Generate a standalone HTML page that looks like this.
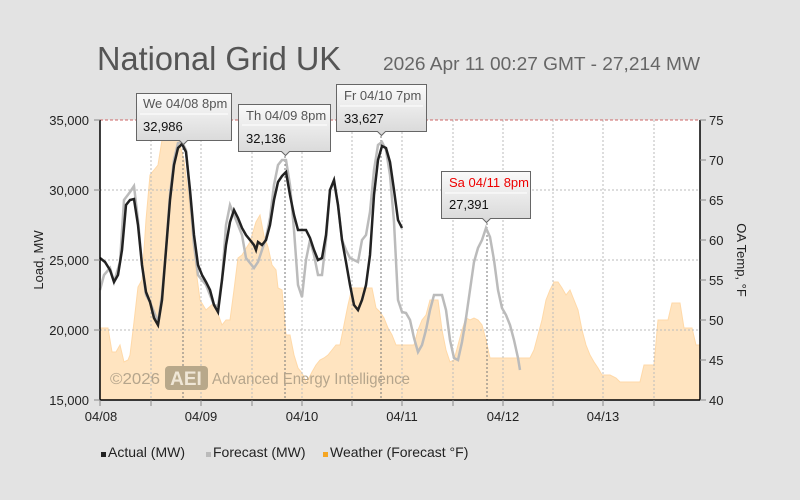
<!DOCTYPE html>
<html><head><meta charset="utf-8"><style>
body{margin:0;background:#e3e3e3;}
svg{display:block;font-family:"Liberation Sans","DejaVu Sans",sans-serif;}
</style></head><body>
<svg width="800" height="500" viewBox="0 0 800 500">
<rect width="800" height="500" fill="#e3e3e3"/>
<text x="97" y="70" font-size="33" fill="#555" textLength="244" lengthAdjust="spacingAndGlyphs">National Grid UK</text>
<text x="383" y="70" font-size="18" fill="#666" textLength="317" lengthAdjust="spacingAndGlyphs">2026 Apr 11 00:27 GMT - 27,214 MW</text>
<rect x="100" y="120" width="600" height="280" fill="#fff"/>
<polygon fill="#ffe4c0" stroke="#ffd9a8" stroke-width="1" points="100,400 100,328 108,328 112,352 116,352 120,345 124,362 128,360 130,355 134,322 138,287 142,280 146,220 150,175 154,170 158,165 162,140 166,120 176,120 180,145 184,160 190,210 196,270 200,300 206,310 214,303 222,325 226,320 230,320 234,290 238,258 242,255 250,242 256,222 260,215 264,236 268,247 272,265 276,270 278,288 282,290 286,335 290,335 294,355 298,368 302,373 306,382 308,380 312,372 316,365 320,360 324,358 328,355 332,350 336,345 340,345 344,325 348,305 352,288 372,288 376,308 380,312 384,318 388,328 392,335 396,345 414,345 418,330 422,320 426,315 430,300 438,300 442,330 446,350 450,362 454,360 458,345 462,330 466,318 470,320 474,318 478,320 482,325 486,340 490,358 530,358 534,350 538,335 542,320 546,300 550,290 554,282 558,282 562,288 566,295 570,290 574,300 578,310 582,330 586,345 590,355 594,362 598,368 602,375 610,375 616,378 620,382 640,382 644,365 654,365 658,320 668,320 672,303 680,303 684,328 692,328 696,345 700,345 700,400"/>
<g stroke="#bbb" stroke-dasharray="2,2" stroke-width="1">
<line x1="100" y1="190" x2="700" y2="190"/><line x1="100" y1="260" x2="700" y2="260"/><line x1="100" y1="330" x2="700" y2="330"/>
<line x1="151" y1="120" x2="151" y2="400"/><line x1="201" y1="120" x2="201" y2="400"/><line x1="252" y1="120" x2="252" y2="400"/><line x1="302" y1="120" x2="302" y2="400"/><line x1="352" y1="120" x2="352" y2="400"/><line x1="402" y1="120" x2="402" y2="400"/><line x1="453" y1="120" x2="453" y2="400"/><line x1="503" y1="120" x2="503" y2="400"/><line x1="553" y1="120" x2="553" y2="400"/><line x1="603" y1="120" x2="603" y2="400"/><line x1="654" y1="120" x2="654" y2="400"/>
</g>
<line x1="100" y1="120" x2="700" y2="120" stroke="#c66" stroke-dasharray="3,2"/>
<g stroke="#777" stroke-dasharray="2,2"><line x1="183" y1="140" x2="183" y2="400"/><line x1="285" y1="152" x2="285" y2="400"/><line x1="381" y1="132" x2="381" y2="400"/><line x1="487" y1="219" x2="487" y2="400"/></g>
<text x="110" y="384" font-size="16" fill="#b5a58c" textLength="50" lengthAdjust="spacingAndGlyphs">©2026</text>
<rect x="165" y="366" width="43" height="24" rx="4" fill="#b8a88a"/>
<text x="186" y="385" font-size="19" fill="#efe6d6" text-anchor="middle" font-weight="bold">AEI</text>
<text x="212" y="384" font-size="16" fill="#b5a58c" textLength="198" lengthAdjust="spacingAndGlyphs">Advanced Energy Intelligence</text>
<polyline fill="none" stroke="#bbb" stroke-width="2.5" points="100,290 104,275 110,268 114,282 120,262 124,200 130,192 134,186 138,220 142,265 146,295 150,302 154,312 158,322 162,295 166,250 170,195 174,160 178,143 182,142 186,150 190,195 194,245 198,275 202,280 206,285 210,295 214,305 218,306 222,280 226,225 230,205 234,215 238,225 242,235 246,258 250,263 254,268 258,262 262,250 266,238 270,218 274,185 278,165 282,160 286,160 290,185 294,230 298,285 302,297 306,260 310,240 314,255 318,275 322,275 326,240 330,190 334,182 338,205 342,240 346,250 350,258 354,260 358,262 362,240 366,235 370,212 374,170 378,145 382,142 386,150 390,175 394,222 398,300 402,312 406,313 410,320 414,338 418,352 422,345 426,330 430,310 434,295 438,295 442,295 446,310 450,340 454,358 458,360 462,342 466,318 470,290 474,262 478,248 482,240 486,228 490,237 494,260 498,290 502,308 506,315 510,325 514,340 518,358 520,370"/>
<polyline fill="none" stroke="#222" stroke-width="2.5" points="100,258 105,262 110,270 114,282 118,275 122,250 126,205 130,200 134,199 138,225 142,265 146,292 150,302 154,318 158,325 162,300 166,250 170,200 174,165 178,148 182,144 186,152 190,190 194,235 198,265 202,275 206,282 210,290 214,305 218,312 222,280 226,245 230,222 234,210 238,218 242,228 246,235 250,240 254,245 256,250 258,242 262,245 266,240 270,225 274,200 278,182 282,176 286,172 290,195 294,215 298,230 302,230 306,230 310,238 314,250 318,260 322,258 326,235 330,190 334,180 338,205 342,240 346,262 350,285 354,305 358,310 362,300 366,285 370,255 374,195 378,160 382,146 386,148 390,162 394,190 398,220 402,228"/>
<line x1="100" y1="120" x2="100" y2="400" stroke="#000" stroke-width="1.5"/>
<line x1="700" y1="120" x2="700" y2="400" stroke="#000" stroke-width="1.5"/>
<line x1="100" y1="400" x2="700" y2="400" stroke="#000" stroke-width="1.5"/>
<g stroke="#888"><line x1="100" y1="400" x2="100" y2="406"/><line x1="151" y1="400" x2="151" y2="406"/><line x1="201" y1="400" x2="201" y2="406"/><line x1="252" y1="400" x2="252" y2="406"/><line x1="302" y1="400" x2="302" y2="406"/><line x1="352" y1="400" x2="352" y2="406"/><line x1="402" y1="400" x2="402" y2="406"/><line x1="453" y1="400" x2="453" y2="406"/><line x1="503" y1="400" x2="503" y2="406"/><line x1="553" y1="400" x2="553" y2="406"/><line x1="603" y1="400" x2="603" y2="406"/><line x1="654" y1="400" x2="654" y2="406"/>
<line x1="700" y1="120" x2="706" y2="120"/><line x1="700" y1="160" x2="706" y2="160"/><line x1="700" y1="200" x2="706" y2="200"/><line x1="700" y1="240" x2="706" y2="240"/><line x1="700" y1="280" x2="706" y2="280"/><line x1="700" y1="320" x2="706" y2="320"/><line x1="700" y1="360" x2="706" y2="360"/><line x1="700" y1="400" x2="706" y2="400"/>
<line x1="94" y1="120" x2="100" y2="120"/><line x1="94" y1="190" x2="100" y2="190"/><line x1="94" y1="260" x2="100" y2="260"/><line x1="94" y1="330" x2="100" y2="330"/><line x1="94" y1="400" x2="100" y2="400"/></g>
<g font-size="13" fill="#222" text-anchor="end">
<text x="89" y="125">35,000</text><text x="89" y="195">30,000</text><text x="89" y="265">25,000</text><text x="89" y="335">20,000</text><text x="89" y="405">15,000</text></g>
<g font-size="13" fill="#222"><text x="709" y="125">75</text><text x="709" y="165">70</text><text x="709" y="205">65</text><text x="709" y="245">60</text><text x="709" y="285">55</text><text x="709" y="325">50</text><text x="709" y="365">45</text><text x="709" y="405">40</text></g>
<g font-size="13" fill="#222" text-anchor="middle"><text x="101" y="421">04/08</text><text x="201" y="421">04/09</text><text x="302" y="421">04/10</text><text x="402" y="421">04/11</text><text x="503" y="421">04/12</text><text x="603" y="421">04/13</text></g>
<text transform="translate(43,260) rotate(-90)" font-size="13" fill="#222" text-anchor="middle">Load, MW</text>
<text transform="translate(737,260) rotate(90)" font-size="13" fill="#222" text-anchor="middle">OA Temp, °F</text>
<defs><linearGradient id="g" x1="0" y1="0" x2="0" y2="1"><stop offset="0" stop-color="#fafafa"/><stop offset="1" stop-color="#d8d8d8"/></linearGradient></defs>
<g font-size="13">
<path d="M136.5,93.5h95v47h-44l-4,4l-4,-4h-43z" fill="url(#g)" stroke="#666"/><line x1="140" y1="114" x2="228" y2="114" stroke="#fff"/>
<text x="143" y="108" fill="#555">We 04/08 8pm</text><text x="143" y="131" fill="#111">32,986</text>
<path d="M238.5,104.5h92v47h-41l-4,4l-4,-4h-43z" fill="url(#g)" stroke="#666"/><line x1="242" y1="125" x2="327" y2="125" stroke="#fff"/>
<text x="246" y="120" fill="#555">Th 04/09 8pm</text><text x="246" y="143" fill="#111">32,136</text>
<path d="M336.5,84.5h90v47h-41l-4,4l-4,-4h-41z" fill="url(#g)" stroke="#666"/><line x1="340" y1="106" x2="423" y2="106" stroke="#fff"/>
<text x="344" y="100" fill="#555">Fr 04/10 7pm</text><text x="344" y="123" fill="#111">33,627</text>
<path d="M441.5,171.5h89v47h-40l-4,4l-4,-4h-41z" fill="url(#g)" stroke="#666"/><line x1="445" y1="193" x2="527" y2="193" stroke="#fff"/>
<text x="449" y="187" fill="#e00">Sa 04/11 8pm</text><text x="449" y="209" fill="#111">27,391</text>
</g>
<g font-size="14" fill="#222">
<rect x="101" y="452" width="5" height="5" fill="#222"/><text x="108" y="457">Actual (MW)</text>
<rect x="206" y="452" width="5" height="5" fill="#bbb"/><text x="213" y="457">Forecast (MW)</text>
<rect x="323" y="452" width="5" height="5" fill="#f5a623"/><text x="330" y="457">Weather (Forecast °F)</text>
</g>
</svg>
</body></html>
